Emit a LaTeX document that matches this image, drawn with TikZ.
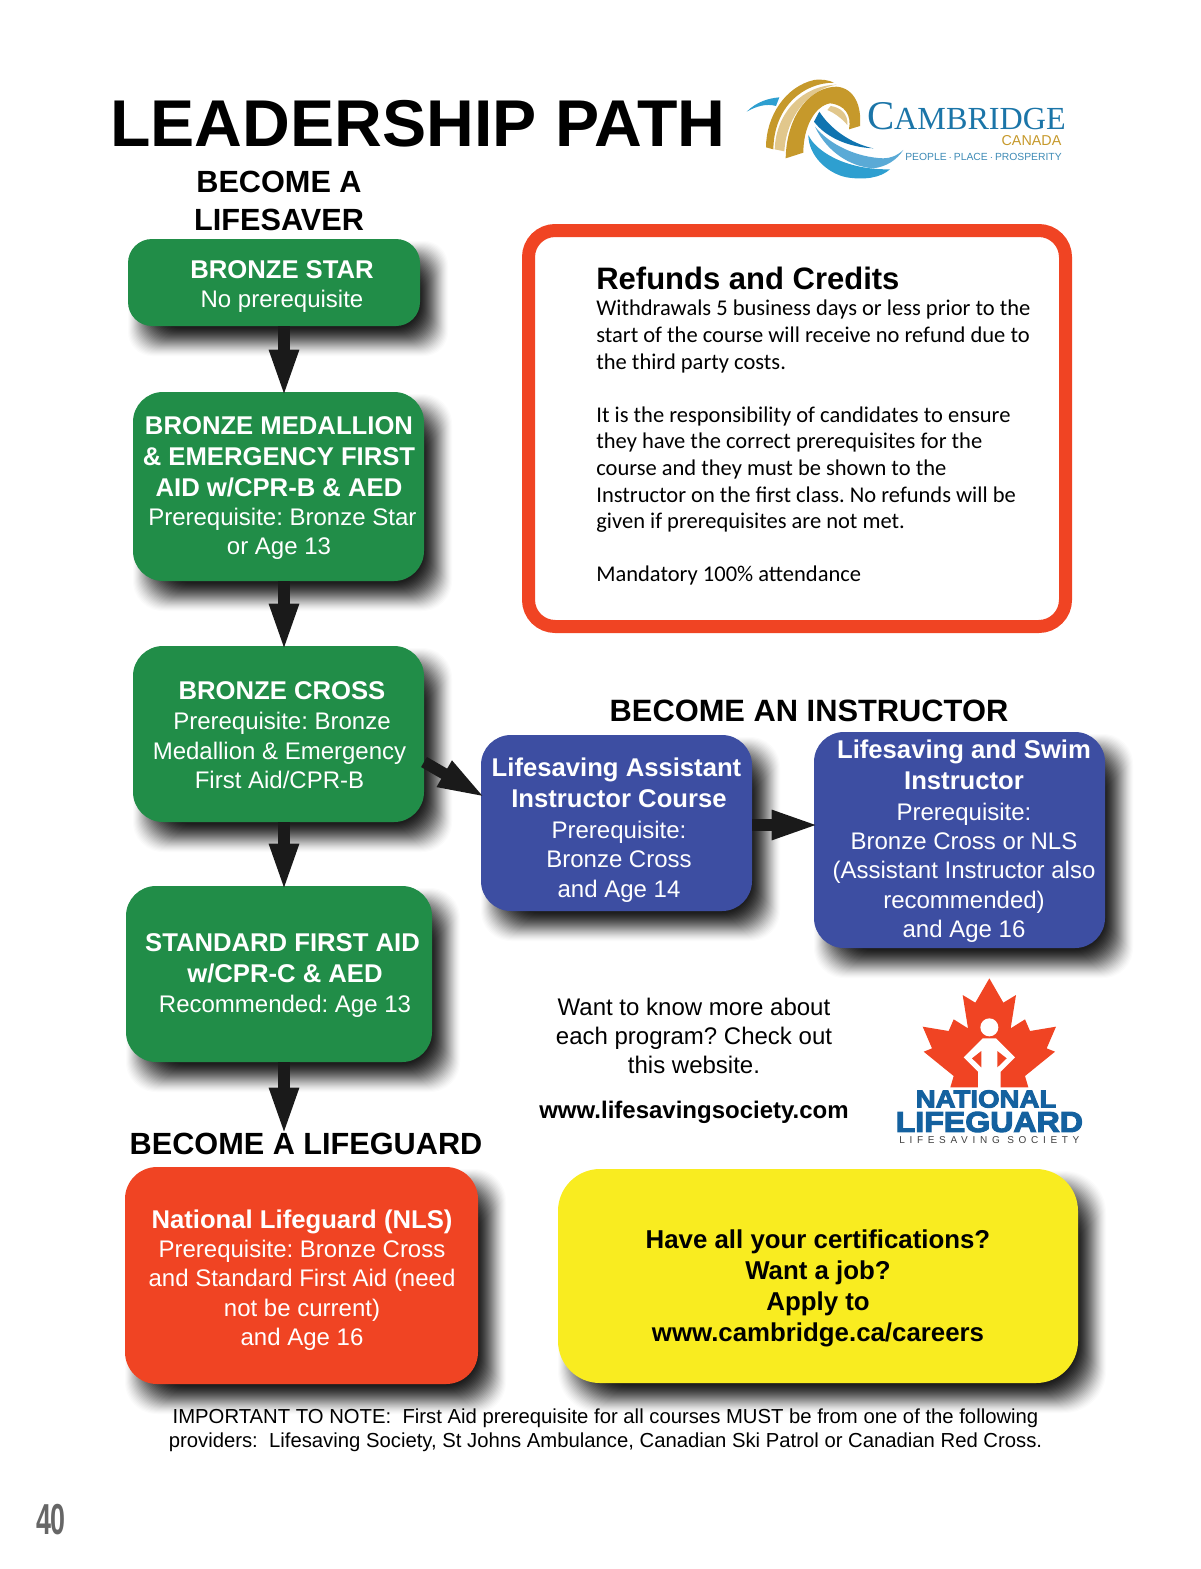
\documentclass[tikz,border=0pt]{standalone}
\usepackage{fontspec}
\setmainfont{Liberation Sans}
\newfontfamily\bodyfont{Carlito}
\newfontfamily\capfont{Liberation Serif}
\newfontfamily\nlfont[FakeStretch=1.12,FakeBold=4]{Liberation Sans Bold}
\newfontfamily\lssfont[LetterSpace=47]{Liberation Sans}
\newfontfamily\numfont[FakeStretch=0.62]{Liberation Sans}
\usetikzlibrary{arrows.meta,calc}
\definecolor{boxgreen}{HTML}{218D48}
\definecolor{boxblue}{HTML}{3D4EA2}
\definecolor{boxred}{HTML}{F04423}
\definecolor{boxyellow}{HTML}{F9EC20}
\definecolor{arrowblack}{HTML}{1A1A1A}
\definecolor{camblue}{HTML}{1B75A8}
\definecolor{camlight}{HTML}{2E9FD0}
\definecolor{campale}{HTML}{5AAAD6}
\definecolor{camdark}{HTML}{0F74B0}
\definecolor{camgold}{HTML}{C6992B}
\definecolor{camtan}{HTML}{E1C78C}
\definecolor{lgblue}{HTML}{14619F}
\newcommand{\fs}[2]{\fontsize{#1}{#2}\selectfont}
\newcommand{\bl}[1]{{\fs{15.4}{17.6}\bfseries #1}}
\newcommand{\softbox}[7]{%
  \foreach \i in {-14,-13,...,14}{
    \pgfmathsetmacro{\layerop}{0.014+0.004*(\i+14)}
    \fill[black,opacity=\layerop,rounded corners=#6*.6pt]
      ({#2+14+\i},{#3+16+\i}) rectangle ({#4+14-\i},{#5+16-\i});
  }
  \node[minimum width={(#4-#2)*.6pt},minimum height={(#5-#3)*.6pt},
        inner sep=0pt,outer sep=0pt,fill=#7,rounded corners=#6*.6pt]
        (#1) at ({(#2+#4)/2},{(#3+#5)/2}) {};
}
\tikzset{
  flow/.style={arrowblack,line width=7pt,shorten >=-3.5pt,-{Triangle[length=29pt,width=16pt]}},
  boxtext/.style={white,align=center,inner sep=0pt,font=\fs{14.4}{17.6}},
  headtext/.style={black,align=center,inner sep=0pt,font=\fs{18.4}{22.6}\bfseries},
  plain/.style={black,inner sep=0pt},
}
\begin{document}
\frenchspacing
\begin{tikzpicture}[x=.6pt,y=-.6pt]
\useasboundingbox (0,0) rectangle (1200,1569);
% titles
\node[plain,anchor=base,font=\fs{39.7}{44}\bfseries] (title) at (418,147) {LEADERSHIP PATH};
\node[headtext] (lifesaver) at (279,201) {BECOME A\\LIFESAVER};
\node[plain,anchor=base,font=\fs{18.5}{22}\bfseries] (instr) at (809,721) {BECOME AN INSTRUCTOR};
% boxes
\softbox{star}{128}{239}{420}{326}{24}{boxgreen}
\softbox{medal}{133}{392}{424}{581}{30}{boxgreen}
\softbox{cross}{133}{646}{424}{822}{30}{boxgreen}
\softbox{sfa}{126}{886}{432}{1062}{30}{boxgreen}
\softbox{nls}{125}{1167}{478}{1384}{32}{boxred}
\softbox{yellow}{558}{1169}{1078}{1383}{42}{boxyellow}
\softbox{asst}{481}{735}{752}{911}{30}{boxblue}
\softbox{swim}{814}{732}{1105}{948}{30}{boxblue}
% refunds panel
\node[minimum width={537*.6pt},minimum height={396*.6pt},inner sep=0pt,outer sep=0pt,
      draw=boxred,line width=7.8pt,fill=white,rounded corners=16pt] (refund) at (797,428.5) {};
\node[plain,anchor=base west,font=\fs{18.6}{22}\bfseries] (refhead) at (596,289) {Refunds and Credits};
\node[plain,anchor=north west,align=left,font=\bodyfont\fs{13.5}{15.95}] (refbody) at (596,300) {Withdrawals 5 business days or less prior to the\\
start of the course will receive no refund due to\\
the third party costs.\\[15.95pt]
It is the responsibility of candidates to ensure\\
they have the correct prerequisites for the\\
course and they must be shown to the\\
Instructor on the first class. No refunds will be\\
given if prerequisites are not met.\\[15.95pt]
Mandatory 100\% attendance};
% box texts
\node[boxtext] (startxt) at (282,286.5) {\bl{BRONZE STAR}\\No prerequisite};
\node[boxtext] (medaltxt) at (279,488) {\bl{BRONZE MEDALLION}\\[1pt]\bl{\&~EMERGENCY FIRST}\\[1pt]\bl{AID w/CPR-B \& AED}\\\hspace*{4pt}Prerequisite: Bronze Star\\or Age 13};
\node[boxtext] (crosstxt) at (279.5,735) {\hspace*{3pt}\bl{BRONZE CROSS}\\[.6pt]\hspace*{3pt}Prerequisite: Bronze\\Medallion \& Emergency\\First Aid/CPR-B};
\node[boxtext] (sfatxt) at (285,975.5) {\bl{STANDARD FIRST AID}\hspace*{3pt}\\[1pt]\bl{w/CPR-C \& AED}\\Recommended: Age 13};
\node[boxtext] (nlstxt) at (302,1280) {\bl{National Lifeguard (NLS)}\\Prerequisite: Bronze Cross\\and Standard First Aid (need\\not be current)\\and Age 16};
\node[boxtext] (assttxt) at (619,830) {\bl{Lifesaving Assistant}\hspace*{3pt}\\[1pt]\bl{Instructor Course}\\[1pt]Prerequisite:\\Bronze Cross\\and Age 14};
\node[boxtext] (swimtxt) at (964,841) {\bl{Lifesaving and Swim}\\[1pt]\bl{Instructor}\\[1pt]Prerequisite:\\Bronze Cross or NLS\\(Assistant Instructor also\\recommended)\\and Age 16};
\node[black,align=center,inner sep=0pt,font=\fs{15.5}{18.6}\bfseries] (yellowtxt) at (818,1288) {Have all your certifications?\\Want a job?\\Apply to\\www.cambridge.ca/careers};
\node[black,align=center,inner sep=0pt,font=\fs{14.4}{17.4}] (wanttxt) at (694,1036) {Want to know more about\\each program? Check out\\this website.};
\node[plain,anchor=base,font=\fs{14.4}{17}\bfseries] (www) at (694,1118) {www.lifesavingsociety.com};
\node[plain,align=center,font=\fs{12.17}{14.5}] (note) at (605.5,1430) {IMPORTANT TO NOTE:\ \ First Aid prerequisite for all courses MUST be from one of the following\\providers:\ \ Lifesaving Society, St Johns Ambulance, Canadian Ski Patrol or Canadian Red Cross.};
\node[anchor=base,inner sep=0pt,text=black!60,font=\numfont\fs{26}{28}\bfseries] (pagenum) at (51,1534) {40};
% connectors
\draw[flow] ([xshift=6pt]star.south) -- ([xshift=3.3pt]medal.north);
\draw[flow] ([xshift=3.3pt]medal.south) -- ([xshift=3.3pt]cross.north);
\draw[flow] ([xshift=3.3pt]cross.south) -- ([xshift=3pt]sfa.north);
\draw[flow] ([xshift=3pt]sfa.south) -- ([xshift=-10.5pt,yshift=22.2pt]nls.north);
\draw[flow] ([yshift=-16.8pt]cross.east) -- ([yshift=16.8pt]asst.west);
\draw[flow] ([yshift=-1.2pt]asst.east) -- ([yshift=9pt]swim.west);
\node[plain,anchor=base,font=\fs{18.4}{22}\bfseries] (guard) at (306,1154) {BECOME A LIFEGUARD};
% Cambridge logo
\begin{scope}[shift={(740,70)},scale=1/3]
  \fill[camlight] (20,125) .. controls (50,95) and (85,85) .. (118,82) -- (108,108) .. controls (80,100) and (50,108) .. (20,125) -- cycle;
  \fill[camgold] (78,232) .. controls (78,140) and (135,50) .. (222,30) .. controls (245,27) and (265,30) .. (282,38) .. controls (190,38) and (102,110) .. (100,238) -- cycle;
  \fill[camtan] (104,238) .. controls (108,125) and (190,46) .. (290,44) .. controls (215,55) and (140,130) .. (133,244) -- cycle;
  \fill[camgold] (137,265) .. controls (140,130) and (215,50) .. (290,50) .. controls (345,55) and (365,110) .. (360,168) -- (327,178) .. controls (335,135) and (315,105) .. (270,100) .. controls (225,108) and (190,170) .. (190,248) -- cycle;
  \fill[camtan] (272,108) .. controls (300,112) and (325,130) .. (322,165) .. controls (305,145) and (285,130) .. (262,120) -- cycle;
  \fill[camdark] (238,125) .. controls (270,175) and (330,220) .. (400,235) .. controls (330,232) and (260,205) .. (222,155) -- cycle;
  \fill[campale] (225,170) .. controls (270,225) and (350,262) .. (430,265) .. controls (450,265) and (470,258) .. (490,240) .. controls (470,270) and (440,290) .. (400,295) .. controls (330,290) and (260,245) .. (225,170) -- cycle;
  \fill[camlight] (205,195) .. controls (225,240) and (310,300) .. (450,298) .. controls (420,325) and (370,330) .. (320,322) .. controls (260,310) and (205,255) .. (205,195) -- cycle;
  \node[anchor=base west,inner sep=0pt,text=camblue,font=\capfont\fs{24.5}{26}] (camb) at (380,178) {C\fs{19.3}{21}AMBRIDGE};
  \node[anchor=base east,inner sep=0pt,text=camgold,font=\fs{8.6}{9}] (canada) at (965,228) {CANADA};
  \node[anchor=base east,inner sep=0pt,text=camblue!85,font=\fs{6.2}{8}] (motto) at (966,272) {PEOPLE\,$\cdot$\,PLACE\,$\cdot$\,PROSPERITY};
\end{scope}
% National Lifeguard logo
\begin{scope}[shift={(880,970)},scale=1/3]
  \fill[boxred] (328,25) -- (370,98) -- (408,75) -- (392,175) -- (435,148) -- (450,183) -- (528,170) -- (500,235) -- (525,245) -- (435,318) -- (445,352)
    -- (211,352) -- (221,318) -- (131,245) -- (156,235) -- (128,170) -- (206,183) -- (221,148) -- (264,175) -- (248,75) -- (286,98) -- cycle;
  \fill[white] (328,172) circle (27);
  \fill[white] (308,205) -- (348,205) -- (405,262) -- (362,305) -- (362,358) -- (294,358) -- (294,305) -- (251,262) -- cycle;
  \fill[boxred] (352,243) -- (380,265) -- (352,292) -- cycle;
  \fill[boxred] (304,243) -- (276,265) -- (304,292) -- cycle;
  \node[inner sep=0pt,text=lgblue,font=\nlfont\fs{14.8}{15}] (nat) at (318,387) {NATIONAL};
  \node[inner sep=0pt,text=lgblue,font=\nlfont\fs{17.2}{18}] (lg) at (328,456) {LIFEGUARD};
  \node[inner sep=0pt,text=black!75,font=\lssfont\fs{6}{7}] (lss) at (328,510) {LIFESAVING SOCIETY};
\end{scope}
\end{tikzpicture}
\end{document}
